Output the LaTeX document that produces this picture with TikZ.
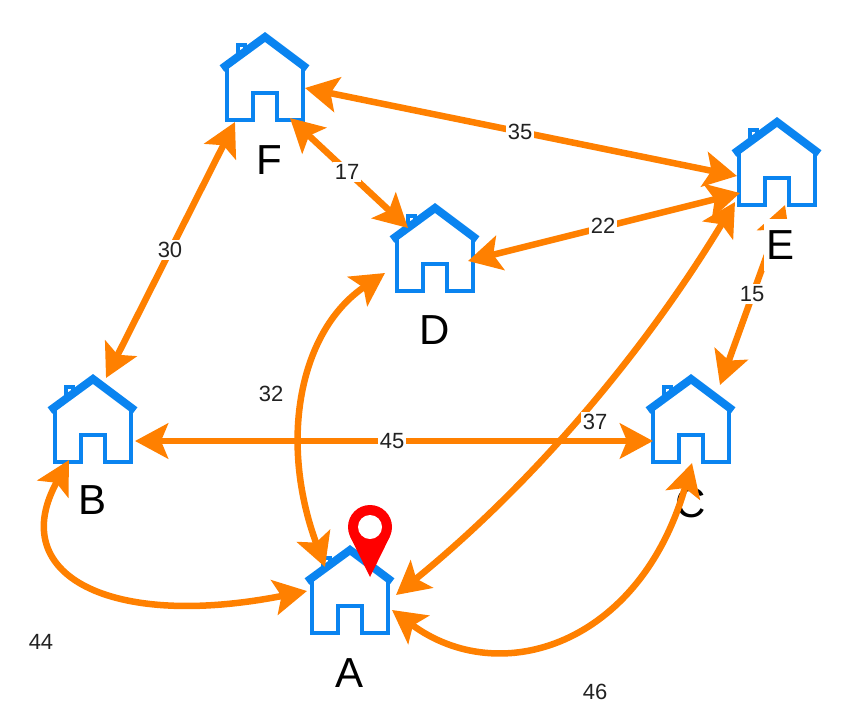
\documentclass[tikz,border=0pt]{standalone}
\usepackage{fontspec}
\setmainfont{Liberation Sans}
\usetikzlibrary{arrows.meta,calc}
\definecolor{roadorange}{HTML}{FF8000}
\definecolor{homeblue}{HTML}{0A84F0}
\definecolor{pinred}{HTML}{FF0000}
\definecolor{weighttext}{HTML}{222222}
\tikzset{
  homebox/.style={minimum width=86pt,minimum height=87pt,inner sep=0pt,outer sep=0pt},
  road/.style={draw=roadorange,line width=6.5pt,{Stealth[length=33pt,width=35pt,inset=7pt]}-{Stealth[length=33pt,width=35pt,inset=7pt]}},
  place/.style={inner sep=0pt,font=\fontsize{42}{46}\selectfont,text=black},
  weight/.style={fill=white,inner sep=2pt,font=\fontsize{22}{24}\selectfont,text=weighttext},
  house/.pic={
    \draw[homeblue,line width=4.5pt,miter limit=10] (-38,-8.5)--(-38,43.5)--(-12,43.5)--(-12,16.5)--(12,16.5)--(12,43.5)--(38,43.5)--(38,-8.5);
    \draw[homeblue,line width=8pt,miter limit=10] (-43,-8)--(0,-39.5)--(42,-8);
    \draw[homeblue,line width=4pt] (-27,-19)--(-27,-32)--(-20,-32)--(-20,-25);
  }
}
\begin{document}
\begin{tikzpicture}[x=1pt,y=-1pt]
\useasboundingbox[fill=white] (0,0) rectangle (842,720);
% houses
\node[homebox] (F) at (265,76.5) {};
\node[homebox] (E) at (777,161.5) {};
\node[homebox] (D) at (435,247.5) {};
\node[homebox] (B) at (93,418.5) {};
\node[homebox] (C) at (691,418.5) {};
\node[homebox] (A) at (350,589.5) {};
\foreach \h in {F,E,D,B,C,A} \pic at (\h) {house};
% place names below the connectors
\node[place] (lF) at (269,160) {F};
\node[place] (lD) at (435,330) {D};
\node[place] (lB) at (93,500) {B};
\node[place] (lC) at (691,503) {C};
\node[place] (lA) at (350,673) {A};
% connectors
\draw[road] ($(F)+(-30,45.5)$) -- ($(B)+(13,-40.5)$);
\draw[road] ($(F)+(25,41.5)$) -- ($(D)+(-27,-19.5)$);
\draw[road] ($(F)+(40,11.5)$) -- ($(E)+(-40,14.5)$);
\draw[road] ($(D)+(33,13.5)$) -- ($(E)+(-37,31.5)$);
\draw[road] ($(E)+(-42,40.5)$) .. controls (642,356) and (529,487) .. ($(A)+(46,5.5)$);
\draw[road] ($(E)+(8,43.5)$) -- ($(C)+(29,-33.5)$);
\draw[road] ($(B)+(42,22.5)$) -- ($(C)+(-38,22.5)$);
\draw[road] ($(D)+(-50,25.5)$) .. controls (300,330) and (278,440) .. ($(A)+(-25,-22.5)$);
\draw[road] ($(B)+(-24,41.5)$) .. controls (5,575) and (110,630) .. ($(A)+(-43,1.5)$);
\draw[road] ($(C)+(1,44.5)$) .. controls (640,645) and (500,690) .. ($(A)+(42,20.5)$);
% label E masks its connector
\node[place,fill=white,minimum width=32pt,minimum height=52pt] (lE) at (780,245) {E};
% weights
\node[weight] (w30) at (170,250) {30};
\node[weight] (w17) at (347,172) {17};
\node[weight] (w35) at (520,132) {35};
\node[weight] (w22) at (603,226) {22};
\node[weight] (w15) at (752,294) {15};
\node[weight] (w45) at (392,441) {45};
\node[weight] (w37) at (595,422) {37};
\node[weight] (w32) at (271,394) {32};
\node[weight] (w44) at (41,642) {44};
\node[weight] (w46) at (595,692) {46};
% location pin
\fill[pinred] (370,577)--(350.2,536.7)--(389.8,536.7)--cycle;
\fill[pinred] (370,527) circle[radius=22];
\fill[white] (370,527) circle[radius=12];
\end{tikzpicture}
\end{document}
